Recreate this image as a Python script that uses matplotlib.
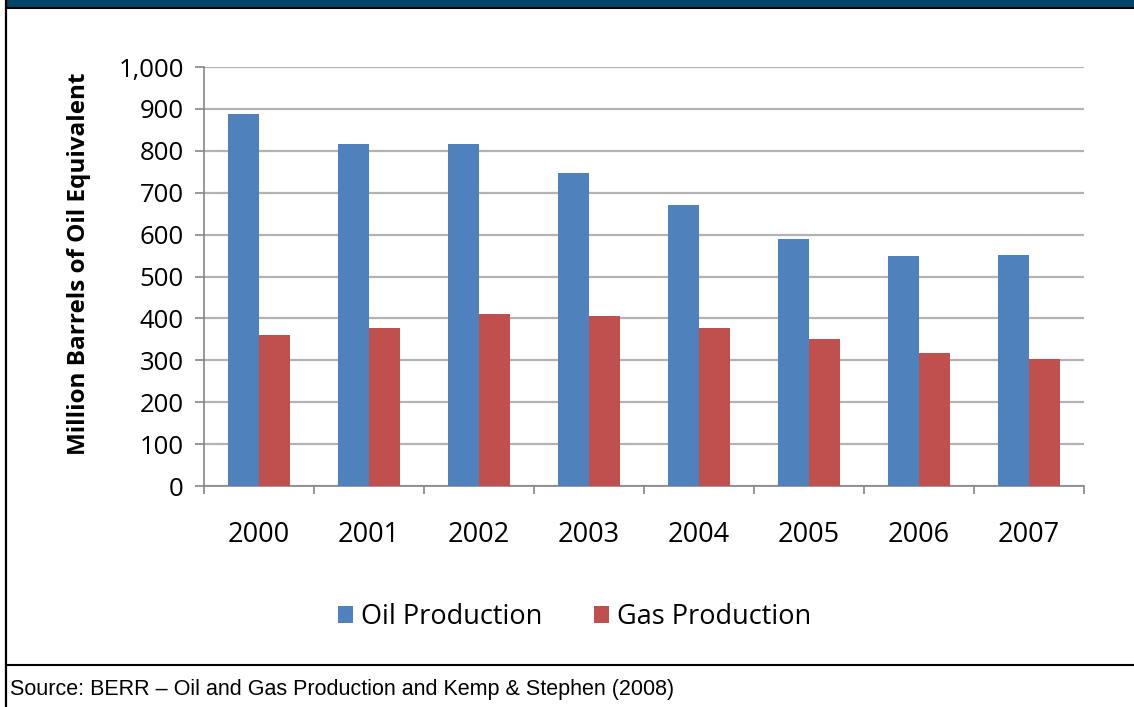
import matplotlib
matplotlib.use("Agg")
import matplotlib.pyplot as plt
import numpy as np
from matplotlib.lines import Line2D
from matplotlib.patches import Rectangle

years = ["2000", "2001", "2002", "2003", "2004", "2005", "2006", "2007"]
oil_production = [888, 816, 816, 747, 671, 590, 548, 552]
gas_production = [360, 377, 410, 406, 377, 351, 318, 302]
y_ticks = [0, 100, 200, 300, 400, 500, 600, 700, 800, 900, 1000]
y_tick_labels = ["0", "100", "200", "300", "400", "500", "600", "700", "800", "900", "1,000"]

OIL_COLOR = "#4F81BD"
GAS_COLOR = "#C0504D"
FONT = "Open Sans"

W, H = 1134, 707
fig = plt.figure(figsize=(W / 100, H / 100), dpi=100)
fig.patch.set_facecolor("white")

# Frame: title band, border lines and source separator
fig.add_artist(Rectangle((7 / W, 1 - 7 / H), 1 - 7 / W, 7 / H, transform=fig.transFigure,
                         facecolor="#00426A", edgecolor="none"))
fig.add_artist(Line2D([6 / W, 1], [1 - 7.5 / H, 1 - 7.5 / H], transform=fig.transFigure,
                      color="black", lw=1.5))
fig.add_artist(Line2D([6 / W, 6 / W], [0, 1], transform=fig.transFigure, color="black", lw=1.6))
fig.add_artist(Line2D([6 / W, 1], [1 - 665 / H, 1 - 665 / H], transform=fig.transFigure,
                      color="black", lw=1.5))

left, right, top, bottom = 204, 1084, 67, 486
ax = fig.add_axes([left / W, 1 - bottom / H, (right - left) / W, (bottom - top) / H])

x = np.arange(len(years))
bw = 0.28
ax.bar(x - bw / 2, oil_production, bw, color=OIL_COLOR, label="Oil Production", zorder=3)
ax.bar(x + bw / 2, gas_production, bw, color=GAS_COLOR, label="Gas Production", zorder=3)

ax.set_xlim(-0.5, len(years) - 0.5)
ax.set_ylim(0, 1000)
ax.set_yticks(y_ticks)
ax.set_yticklabels(y_tick_labels, fontfamily=FONT, fontsize=18.5)
ax.yaxis.grid(True, color="#B3B3B3", lw=1.6, zorder=0)
ax.set_axisbelow(True)

ax.set_xticks(x)
ax.set_xticklabels(years, fontfamily=FONT, fontsize=19.5)
ax.set_xticks(np.arange(len(years) + 1) - 0.5, minor=True)
ax.tick_params(axis="x", which="major", length=0, pad=25)
ax.tick_params(axis="x", which="minor", length=6, color="#868686", width=1.2, direction="out")
ax.tick_params(axis="y", length=6.5, color="#868686", width=1.2, pad=8)

for s in ["top", "right"]:
    ax.spines[s].set_visible(False)
ax.spines["left"].set_color("#868686")
ax.spines["left"].set_linewidth(1.2)
ax.spines["bottom"].set_color("#868686")
ax.spines["bottom"].set_linewidth(1.2)

fig.text(79 / W, 1 - 264 / H, "Million Barrels of Oil Equivalent", rotation=90,
         fontfamily=FONT, fontsize=17.5, fontweight="bold", ha="center", va="center")

leg = fig.legend(loc="center", bbox_to_anchor=(575 / W, 1 - 617 / H), ncol=2, frameon=False,
                 prop={"family": FONT, "size": 19.5}, handlelength=0.55, handleheight=0.55,
                 handletextpad=0.3, columnspacing=1.9)

fig.text(10 / W, 1 - 690 / H, "Source: BERR \u2013 Oil and Gas Production and Kemp & Stephen (2008)",
         fontfamily="Liberation Sans", fontsize=15.5, va="center", ha="left")

fig.savefig("out.png", dpi=100)
